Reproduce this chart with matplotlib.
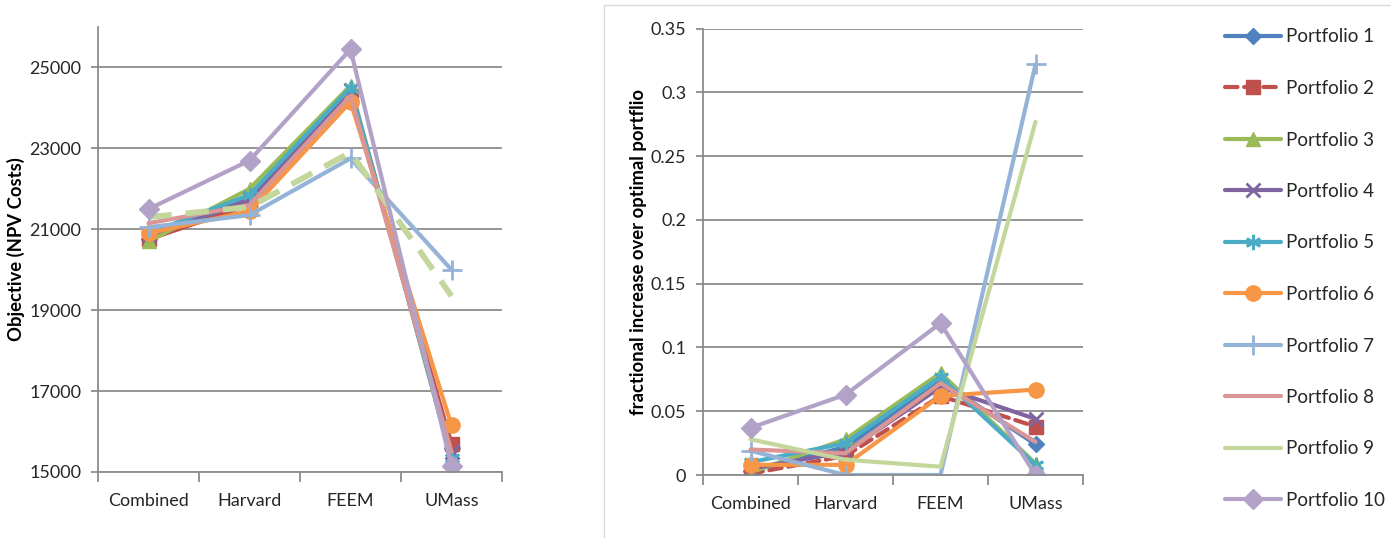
import matplotlib
matplotlib.use("Agg")
import matplotlib.pyplot as plt
from matplotlib.patches import Rectangle
from matplotlib.ticker import FuncFormatter
import numpy as np

# Data
categories = ["Combined", "Harvard", "FEEM", "UMass"]
names = ["Portfolio %d" % i for i in range(1, 11)]

npv_p1 = [20750, 21700, 24400, 15600]
npv_p2 = [20750, 21600, 24300, 15700]
npv_p3 = [20700, 22000, 24550, 15300]
npv_p4 = [20850, 21750, 24450, 15500]
npv_p5 = [20900, 21850, 24500, 15350]
npv_p6 = [20900, 21450, 24150, 16150]
npv_p7 = [21050, 21350, 22750, 20000]
npv_p8 = [21150, 21600, 24300, 15500]
npv_p9 = [21300, 21550, 22900, 19350]
npv_p10 = [21500, 22700, 25450, 15150]

frac_p1 = [0.003, 0.022, 0.074, 0.024]
frac_p2 = [0.001, 0.015, 0.062, 0.038]
frac_p3 = [0.002, 0.028, 0.080, 0.009]
frac_p4 = [0.005, 0.018, 0.069, 0.044]
frac_p5 = [0.010, 0.025, 0.077, 0.008]
frac_p6 = [0.008, 0.008, 0.062, 0.067]
frac_p7 = [0.019, 0.0, 0.0, 0.322]
frac_p8 = [0.020, 0.017, 0.072, 0.026]
frac_p9 = [0.028, 0.012, 0.0065, 0.277]
frac_p10 = [0.037, 0.063, 0.119, 0.0]

npv = [npv_p1, npv_p2, npv_p3, npv_p4, npv_p5,
       npv_p6, npv_p7, npv_p8, npv_p9, npv_p10]
frac = [frac_p1, frac_p2, frac_p3, frac_p4, frac_p5,
        frac_p6, frac_p7, frac_p8, frac_p9, frac_p10]

# Office 2007 palette
colors = ["#4F81BD", "#C0504D", "#9BBB59", "#8064A2", "#4BACC6",
          "#F79646", "#95B3D7", "#D99694", "#C3D69B", "#B3A2C7"]
markers = ["D", "s", "^", "x", (6, 2, 0), "o", "+", "None", "None", "D"]
msizes = [8, 10, 10, 10, 11, 11, 14, 0, 0, 10]

plt.rcParams["font.family"] = ["Lato", "DejaVu Sans"]
grid_c = "#8C8C8C"
text_c = "#262626"

fig = plt.figure(figsize=(13.91, 5.38), dpi=100)

# frame round the right chart and legend
fig.patches.append(Rectangle((604 / 1391, -0.01), 1.0, 1 - 5 / 538 + 0.01,
                             transform=fig.transFigure, fill=False,
                             edgecolor="#D9D9D9", lw=1))

ax1 = fig.add_axes([98 / 1391, 1 - 472 / 538, 404 / 1391, 445 / 538])
ax2 = fig.add_axes([703 / 1391, 1 - 475 / 538, 380 / 1391, 446.3 / 538])

x = np.arange(len(categories))


def style_axes(ax):
    ax.set_xlim(-0.5, 3.5)
    ax.set_xticks(x)
    ax.set_xticklabels(categories)
    ax.set_xticks(np.arange(-0.5, 4.0, 1.0), minor=True)
    ax.tick_params(axis="x", which="major", length=0, pad=15,
                   labelsize=13, labelcolor=text_c)
    ax.tick_params(axis="x", which="minor", length=7, width=1.3,
                   color=grid_c, direction="out")
    ax.tick_params(axis="y", length=5, width=1.3, color=grid_c,
                   labelsize=13, labelcolor=text_c, pad=7)
    ax.grid(axis="y", color=grid_c, lw=1.3)
    ax.set_axisbelow(True)
    for s in ["top", "right"]:
        ax.spines[s].set_visible(False)
    for s in ["left", "bottom"]:
        ax.spines[s].set_color(grid_c)
        ax.spines[s].set_linewidth(1.3)


for i in range(10):
    kw = {}
    lw = 3
    if i == 8:
        kw["dashes"] = (4, 2.4)
        lw = 4.2
    ax1.plot(x, npv[i], color=colors[i], lw=lw, marker=markers[i],
             markersize=msizes[i], markeredgewidth=2 if i in (3, 4, 6) else 1,
             markeredgecolor=colors[i], label=names[i],
             solid_capstyle="round", dash_capstyle="butt", **kw)

handles = []
for i in range(10):
    kw = {}
    if i == 1:
        kw["dashes"] = (3, 1.6)
    h, = ax2.plot(x, frac[i], color=colors[i], lw=3, marker=markers[i],
                  markersize=msizes[i],
                  markeredgewidth=2 if i in (3, 4, 6) else 1,
                  markeredgecolor=colors[i], label=names[i],
                  solid_capstyle="round", dash_capstyle="round", **kw)
    handles.append(h)

style_axes(ax1)
ax1.set_ylim(15000, 26000)
ax1.set_yticks([15000, 17000, 19000, 21000, 23000, 25000])
ax1.set_ylabel("Objective (NPV Costs)", fontsize=13.3, fontweight="bold",
               color="black")
ax1.yaxis.set_label_coords(-0.181, 0.5)

style_axes(ax2)
ax2.set_ylim(0, 0.35)
ax2.set_yticks(np.arange(0, 0.351, 0.05))
ax2.yaxis.set_major_formatter(FuncFormatter(lambda v, p: "%g" % round(v, 2)))
ax2.set_ylabel("fractional increase over optimal portflio", fontsize=13.3,
               fontweight="bold", color="black")
ax2.yaxis.set_label_coords(-0.147, 0.5)

fig.legend(handles=handles, loc="upper left",
           bbox_to_anchor=(1217.5 / 1391, 1 - 21 / 538), frameon=False,
           fontsize=13.5, handlelength=3.0, handletextpad=0.25,
           labelspacing=1.84, labelcolor=text_c, borderaxespad=0)

fig.savefig("out.png", dpi=100)
